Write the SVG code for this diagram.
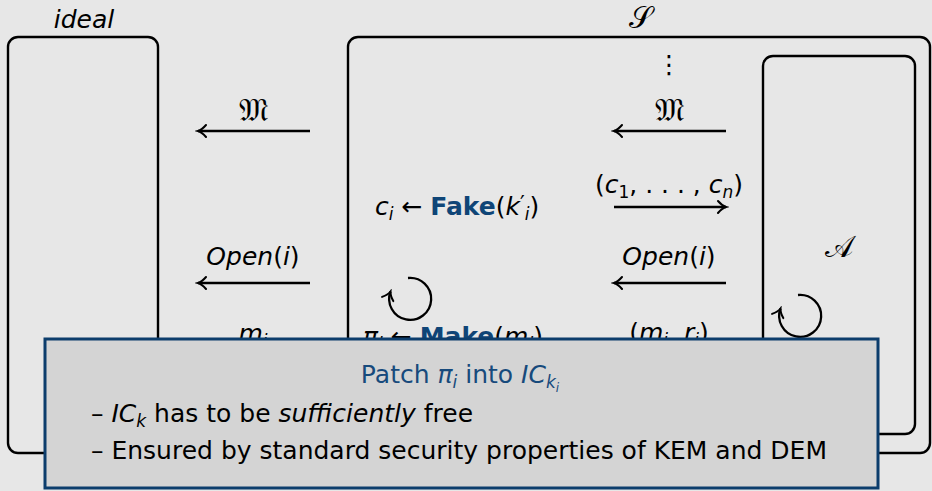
<svg xmlns="http://www.w3.org/2000/svg" width="932" height="491" viewBox="0 0 932 491">
<style>
text{font-family:"DejaVu Sans",sans-serif;font-size:25px;fill:#000}
.it{font-style:italic}
.sub{font-size:17px}
.bb{font-weight:bold;fill:#0f4577}
.box{fill:none;stroke:#000;stroke-width:2.4}
.con{fill:none;stroke:#000;stroke-width:2.3;marker-end:url(#tip)}
.ov{fill:#d4d4d4;stroke:#0c3d6c;stroke-width:3}
.tt{fill:#174a7c}
.cal{font-family:"DejaVu Serif","DejaVu Sans",serif;font-size:30px}
.frak{font-family:"DejaVu Serif","DejaVu Sans",serif;font-size:32px}
</style>
<defs>
<marker id="tip" markerUnits="userSpaceOnUse" markerWidth="14" markerHeight="16" viewBox="-11 -8 14 16" refX="0" refY="0" orient="auto">
<path d="M-8,-6 C-5,-2.5 -2,-0.6 0,0 C-2,0.6 -5,2.5 -8,6" fill="none" stroke="#000" stroke-width="2" stroke-linecap="round"/>
</marker>
</defs>
<rect width="932" height="491" fill="#e7e7e7"/>
<g id="ideal">
<rect class="box" x="8" y="37" width="150" height="416" rx="10"/>
<text class="it" x="84" y="28" text-anchor="middle" font-size="24">ideal</text>
</g>
<g id="simulator">
<rect class="box" x="348" y="37" width="582" height="416" rx="10"/>
<text class="cal" x="640" y="28" text-anchor="middle">𝒮</text>
<text x="669" y="73" text-anchor="middle" font-size="26">⋮</text>
<text x="375" y="215"><tspan class="it">c</tspan><tspan class="it sub" dy="5">i</tspan><tspan dy="-5"> ← </tspan><tspan class="bb">Fake</tspan><tspan>(</tspan><tspan class="it">k</tspan><tspan font-size="21" dy="-4">′</tspan><tspan class="it sub" dy="9">i</tspan><tspan dy="-5">)</tspan></text>
<text x="363" y="345"><tspan class="it">π</tspan><tspan class="it sub" dy="5">i</tspan><tspan dy="-5"> ← </tspan><tspan class="bb">Make</tspan><tspan>(</tspan><tspan class="it">m</tspan><tspan class="it sub" dy="5">i</tspan><tspan dy="-5">)</tspan></text>
</g>
<g id="adversary">
<rect class="box" x="763" y="56" width="152" height="378" rx="10"/>
<text class="cal" x="839" y="257" text-anchor="middle">𝒜</text>
</g>
<g id="connectors">
<line class="con" x1="310" y1="131" x2="198" y2="131"/>
<line class="con" x1="726" y1="131" x2="614" y2="131"/>
<line class="con" x1="614" y1="207" x2="726" y2="207"/>
<line class="con" x1="726" y1="283" x2="614" y2="283"/>
<line class="con" x1="310" y1="283" x2="198" y2="283"/>
<path class="con" d="M408,278 A21,21 0 1 1 390.5,291.5"/>
<path class="con" d="M798,295 A21,21 0 1 1 780.5,308.5"/>
<text class="frak" x="253" y="121" text-anchor="middle">𝔐</text>
<text class="frak" x="669" y="121" text-anchor="middle">𝔐</text>
<text x="669" y="193" text-anchor="middle">(<tspan class="it">c</tspan><tspan class="sub" dy="5">1</tspan><tspan dy="-5">, . . . , </tspan><tspan class="it">c</tspan><tspan class="it sub" dy="5">n</tspan><tspan dy="-5">)</tspan></text>
<text x="253" y="265" text-anchor="middle"><tspan class="it">Open</tspan>(<tspan class="it">i</tspan>)</text>
<text x="669" y="265" text-anchor="middle"><tspan class="it">Open</tspan>(<tspan class="it">i</tspan>)</text>
<text x="253" y="342" text-anchor="middle"><tspan class="it">m</tspan><tspan class="it sub" dy="5">i</tspan></text>
<text x="669" y="341" text-anchor="middle">(<tspan class="it">m</tspan><tspan class="it sub" dy="5">i</tspan><tspan dy="-5">, </tspan><tspan class="it">r</tspan><tspan class="it sub" dy="5">i</tspan><tspan dy="-5">)</tspan></text>
</g>
<g id="note">
<rect class="ov" x="45" y="339" width="833" height="149"/>
<text class="tt" x="460" y="383" text-anchor="middle">Patch <tspan class="it">π</tspan><tspan class="it sub" dy="5">i</tspan><tspan dy="-5"> into </tspan><tspan class="it">IC</tspan><tspan class="it sub" dy="5">k</tspan><tspan class="it" font-size="12" dy="4">i</tspan></text>
<text x="91" y="422">– <tspan class="it">IC</tspan><tspan class="it sub" dy="5">k</tspan><tspan dy="-5"> has to be </tspan><tspan class="it">sufficiently</tspan> free</text>
<text x="91" y="459">– Ensured by standard security properties of KEM and DEM</text>
</g>
</svg>
